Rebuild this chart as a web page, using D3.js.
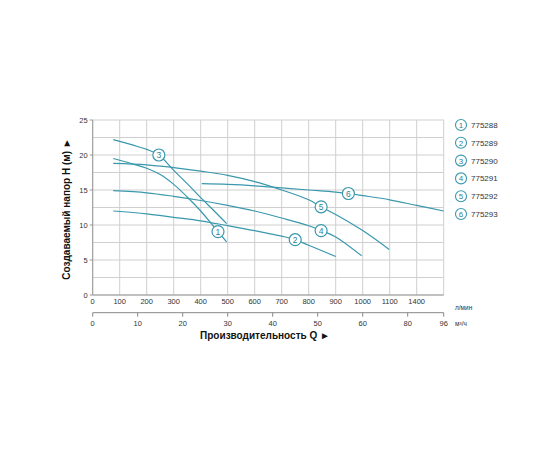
<!DOCTYPE html>
<html>
<head>
<meta charset="utf-8">
<script src="https://cdn.jsdelivr.net/npm/d3@7"></script>
<style>
	body { margin: 0; background: #fff; }
	text { font-family: "Liberation Sans", Arial, sans-serif; }
</style>
</head>
<body>
<script>
// Data
var models = ["775288", "775289", "775290", "775291", "775292", "775293"];

// flow positions (l/min grid) and the labels printed under them
var flowTicks  = [0, 100, 200, 300, 400, 500, 600, 700, 800, 900, 1000, 1100, 1200];
var flowLabels = ["0", "100", "200", "300", "400", "500", "600", "700", "800", "900", "1000", "1100", "1400"];
// m3/h axis positions and printed labels
var m3hTicks  = [0, 10, 20, 30, 40, 50, 60, 70, 78];
var m3hLabels = ["0", "10", "20", "30", "40", "50", "60", "80", "96"];
var headTicks = [0, 5, 10, 15, 20, 25];

var q1 = [76, 150, 200, 250, 300, 350, 400, 450, 496];
var h1 = [19.5, 18.7, 18.1, 17.2, 15.8, 14.0, 12.0, 9.7, 7.6];
var q2 = [76, 200, 300, 400, 500, 600, 700, 750, 800, 900];
var h2 = [12.0, 11.6, 11.1, 10.6, 9.9, 9.2, 8.4, 7.9, 7.1, 5.5];
var q3 = [76, 150, 200, 245, 300, 350, 400, 450, 496];
var h3 = [22.2, 21.4, 20.8, 20.0, 17.8, 15.9, 13.9, 12.0, 10.2];
var q4 = [76, 200, 300, 400, 500, 600, 700, 800, 846, 900, 996];
var h4 = [14.9, 14.6, 14.1, 13.5, 12.8, 12.0, 11.0, 9.9, 9.2, 8.3, 5.6];
var q5 = [76, 200, 300, 400, 500, 600, 700, 800, 846, 900, 1000, 1098];
var h5 = [18.8, 18.6, 18.2, 17.7, 17.1, 16.2, 15.0, 13.6, 12.6, 11.5, 9.2, 6.5];
var q6 = [404, 500, 600, 700, 800, 900, 947, 1000, 1100, 1200, 1300];
var h6 = [15.9, 15.8, 15.6, 15.3, 15.0, 14.7, 14.5, 14.2, 13.6, 12.8, 12.0];
var labelQ = [464, 750, 245, 846, 846, 947];

var series = [[q1, h1], [q2, h2], [q3, h3], [q4, h4], [q5, h5], [q6, h6]];

var W = 560, H = 460,
	pLeft = 92.7, pRight = 443.7, pTop = 120, pBottom = 295,
	teal = "#3a98ad",
	grid = "#cfcfcf";

var svg = d3.select("body").append("svg")
	.attr("width", W)
	.attr("height", H);

var x = d3.scaleLinear().domain([0, 1300]).range([pLeft, pRight]);
var y = d3.scaleLinear().domain([0, 25]).range([pBottom, pTop]);
var x2 = d3.scaleLinear().domain([0, 78]).range([pLeft, pRight]);

// Grid
svg.append("g").selectAll("line")
	.data(d3.range(0, 1301, 100))
	.enter().append("line")
	.attr("x1", function(d) { return x(d); })
	.attr("x2", function(d) { return x(d); })
	.attr("y1", y(0)).attr("y2", y(25))
	.attr("stroke", grid).attr("stroke-width", 1);
svg.append("g").selectAll("line")
	.data(d3.range(0, 25.1, 2.5))
	.enter().append("line")
	.attr("x1", x(0)).attr("x2", x(1300))
	.attr("y1", function(d) { return y(d); })
	.attr("y2", function(d) { return y(d); })
	.attr("stroke", grid).attr("stroke-width", 1);

// Axis lines
svg.append("line")
	.attr("x1", x(0)).attr("x2", x(0))
	.attr("y1", y(0)).attr("y2", y(25))
	.attr("stroke", "#999").attr("stroke-width", 1);
svg.append("line")
	.attr("x1", x(0)).attr("x2", x(1300))
	.attr("y1", y(0)).attr("y2", y(0))
	.attr("stroke", "#999").attr("stroke-width", 1);

// Y ticks
var yg = svg.append("g");
yg.selectAll("line")
	.data(headTicks)
	.enter().append("line")
	.attr("x1", x(0) - 3).attr("x2", x(0))
	.attr("y1", function(d) { return y(d); })
	.attr("y2", function(d) { return y(d); })
	.attr("stroke", "#999");
yg.selectAll("text")
	.data(headTicks)
	.enter().append("text")
	.text(function(d) { return d; })
	.attr("x", x(0) - 5)
	.attr("y", function(d) { return y(d) + 3; })
	.attr("text-anchor", "end")
	.attr("font-size", "7.5px")
	.attr("fill", "#333");

// Flow labels (l/min)
svg.append("g").selectAll("text")
	.data(flowTicks)
	.enter().append("text")
	.text(function(d, i) { return flowLabels[i]; })
	.attr("x", function(d) { return x(d); })
	.attr("y", y(0) + 9)
	.attr("text-anchor", "middle")
	.attr("font-size", "7.5px")
	.attr("fill", "#333");
svg.append("text")
	.text("л/мин")
	.attr("x", 455).attr("y", 310)
	.attr("font-size", "6.5px")
	.attr("fill", "#333");

// Second axis (m3/h)
var ay = 312.7;
svg.append("line")
	.attr("x1", x2(0)).attr("x2", x2(78))
	.attr("y1", ay).attr("y2", ay)
	.attr("stroke", "#888");
var g2 = svg.append("g");
g2.selectAll("line")
	.data(m3hTicks)
	.enter().append("line")
	.attr("x1", function(d) { return x2(d); })
	.attr("x2", function(d) { return x2(d); })
	.attr("y1", ay).attr("y2", ay + 4)
	.attr("stroke", "#888");
g2.selectAll("text")
	.data(m3hTicks)
	.enter().append("text")
	.text(function(d, i) { return m3hLabels[i]; })
	.attr("x", function(d) { return x2(d); })
	.attr("y", ay + 13)
	.attr("text-anchor", "middle")
	.attr("font-size", "7.5px")
	.attr("fill", "#333");
svg.append("text")
	.text("м³/ч")
	.attr("x", 455).attr("y", 326)
	.attr("font-size", "6.5px")
	.attr("fill", "#333");

// Titles
svg.append("text")
	.text("Производительность Q ►")
	.attr("x", 265).attr("y", 339)
	.attr("text-anchor", "middle")
	.attr("font-size", "10px")
	.attr("font-weight", "bold")
	.attr("fill", "#111");
svg.append("text")
	.text("Создаваемый напор H (м) ►")
	.attr("transform", "translate(70,209) rotate(-90)")
	.attr("text-anchor", "middle")
	.attr("font-size", "10px")
	.attr("font-weight", "bold")
	.attr("fill", "#111");

// Curves
var line = d3.line()
	.x(function(d) { return x(d[0]); })
	.y(function(d) { return y(d[1]); })
	.curve(d3.curveCatmullRom.alpha(0.5));

series.forEach(function(s) {
	var pts = s[0].map(function(q, i) { return [q, s[1][i]]; });
	svg.append("path")
		.attr("d", line(pts))
		.attr("fill", "none")
		.attr("stroke", teal)
		.attr("stroke-width", 1.2);
});

// Curve number markers
function headAt(s, q) {
	var qs = s[0], hs = s[1];
	for (var i = 1; i < qs.length; i++) {
		if (q <= qs[i]) {
			var t = (q - qs[i - 1]) / (qs[i] - qs[i - 1]);
			return hs[i - 1] + t * (hs[i] - hs[i - 1]);
		}
	}
	return hs[hs.length - 1];
}
series.forEach(function(s, i) {
	var cx = x(labelQ[i]), cy = y(headAt(s, labelQ[i]));
	svg.append("circle")
		.attr("cx", cx).attr("cy", cy).attr("r", 6)
		.attr("fill", "#fff")
		.attr("stroke", teal)
		.attr("stroke-width", 1.2);
	svg.append("text")
		.text(i + 1)
		.attr("x", cx).attr("y", cy + 3)
		.attr("text-anchor", "middle")
		.attr("font-size", "8.5px")
		.attr("fill", "#2f7f93");
});

// Legend
var lg = svg.append("g");
models.forEach(function(m, i) {
	var ly = 125 + i * 17.8;
	lg.append("circle")
		.attr("cx", 461).attr("cy", ly).attr("r", 5.5)
		.attr("fill", "#fff")
		.attr("stroke", teal)
		.attr("stroke-width", 1.1);
	lg.append("text")
		.text(i + 1)
		.attr("x", 461).attr("y", ly + 3)
		.attr("text-anchor", "middle")
		.attr("font-size", "8px")
		.attr("fill", "#2f7f93");
	lg.append("text")
		.text(m)
		.attr("x", 471).attr("y", ly + 3)
		.attr("font-size", "8px")
		.attr("fill", "#333");
});
</script>
</body>
</html>
